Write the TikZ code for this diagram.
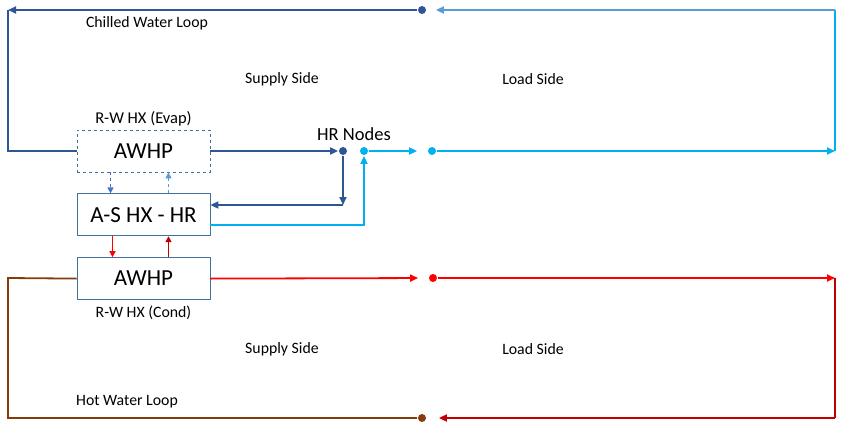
\documentclass[tikz,border=0pt]{standalone}
\usepackage{fontspec}
\setmainfont{Carlito}
\usetikzlibrary{arrows.meta,positioning,calc}
\definecolor{chwdark}{HTML}{2F5597}
\definecolor{chwmid}{HTML}{4472C4}
\definecolor{chwlight}{HTML}{5B9BD5}
\definecolor{chwcyan}{HTML}{00B0F0}
\definecolor{hwred}{HTML}{FF0000}
\definecolor{hwdark}{HTML}{C00000}
\definecolor{hwbrown}{HTML}{843C0C}
\definecolor{boxline}{HTML}{41719C}

\begin{document}
\begin{tikzpicture}[x=1pt,y=-1pt,node distance=21pt and 1cm,>={Triangle[length=8pt,width=7pt]},line width=1.8pt,
    box/.style={draw=boxline,line width=0.8pt,minimum width=133pt,minimum height=42pt,font=\fontsize{23}{27}\selectfont},
    hrdot/.style={circle,fill,inner sep=0pt,minimum size=8pt},
    lbl/.style={font=\fontsize{15.8}{18}\selectfont},
    link/.style={line width=1.2pt,>={Triangle[length=6pt,width=6pt]}}]
    \useasboundingbox (0,0) rectangle (845,436);

    \node [box,dashed] (evap) at (143.5,151) {AWHP};
    \node [box] (ashx) [below=of evap] {A-S HX - HR};
    \node [box] (cond) [below=of ashx] {AWHP};

    \node [font=\fontsize{16.5}{19}\selectfont,above=-1pt of evap] (evaplbl) {R-W HX (Evap)};
    \node [lbl,below=2pt of cond] (condlbl) {R-W HX (Cond)};

    % nodes on the loops
    \node [hrdot,chwdark] (chwdot) at (422,10) {};
    \node [hrdot,chwdark] (hra) at (343,151) {};
    \node [hrdot,chwcyan] (hrb) at (364,151) {};
    \node [hrdot,chwcyan] (chwload) at (432,151) {};
    \node [hrdot,hwred] (hwload) at (433,278) {};
    \node [hrdot,hwbrown] (hwdot) at (422,418) {};
    \node [font=\fontsize{18.5}{21}\selectfont] (hrlbl) at (354,134) {HR Nodes};

    \coordinate (c-tl) at (8,10);
    \coordinate (c-ml) at (8,151);
    \coordinate (c-tr) at (835,10);
    \coordinate (c-mr) at (835,151);
    \coordinate (c-rr) at (835,278);
    \coordinate (c-br) at (835,418);
    \coordinate (c-bl) at (8,418);
    \coordinate (c-hl) at (8,278);
    \coordinate (hr-down) at (343,205);
    \coordinate (hr-up) at (364,225);

    \node [lbl] (chwlbl) at (147,23) {Chilled Water Loop};
    \node [lbl] (sup1) at (282,79) {Supply Side};
    \node [lbl] (load1) at (533,79) {Load Side};
    \node [lbl] (sup2) at (282,349) {Supply Side};
    \node [lbl] (load2) at (533,349) {Load Side};
    \node [lbl] (hwlbl) at (127,402) {Hot Water Loop};

    % chilled water loop
    \draw[->, chwdark] (chwdot) -- (c-tl);
    \draw[chwdark] (c-tl) -- (c-ml) -- (evap.west);
    \draw[->, chwdark] (evap.east) -- (hra);
    \draw[->, chwdark] (hra) -- (hr-down);
    \draw[->, chwdark] (hr-down) -- (ashx.east |- hr-down);
    \draw[->, chwcyan] (ashx.east |- hr-up) -- (hr-up) -- (hrb);
    \draw[->, chwcyan, shorten >=10pt] (hrb) -- (chwload);
    \draw[->, chwcyan] (chwload) -- (c-mr);
    \draw[chwcyan] (c-mr) -- (c-tr);
    \draw[->, chwlight, shorten >=9pt] (c-tr) -- (chwdot);

    % between the boxes
    \draw[->, link, dashed, chwmid] ([xshift=-33pt]evap.south) -- ([xshift=-33pt]ashx.north);
    \draw[->, link, dashed, chwlight] ([xshift=25pt]ashx.north) -- ([xshift=25pt]evap.south);
    \draw[->, link, line width=1.5pt, hwred] ([xshift=-31pt]ashx.south) -- ([xshift=-31pt]cond.north);
    \draw[->, link, line width=1.5pt, hwdark] ([xshift=25pt]cond.north) -- ([xshift=25pt]ashx.south);

    % hot water loop
    \draw[->, hwred, shorten >=10pt] (cond.east) -- (hwload);
    \draw[->, hwred] (hwload) -- (c-rr);
    \draw[hwdark] (c-rr) -- (c-br);
    \draw[->, hwdark, shorten >=12pt] (c-br) -- (hwdot);
    \draw[hwbrown] (hwdot) -- (c-bl) -- (c-hl) -- (cond.west);

\end{tikzpicture}
\end{document}
